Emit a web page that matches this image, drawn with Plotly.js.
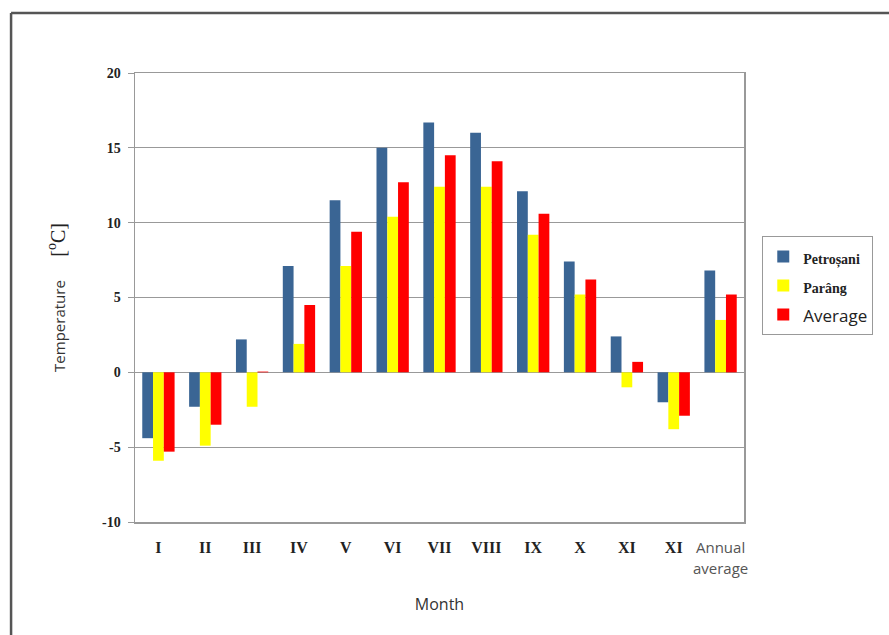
<!DOCTYPE html>
<html>
<head>
<meta charset="utf-8">
<script src="https://cdn.plot.ly/plotly-3.0.1.min.js"></script>
<style>html,body{margin:0;padding:0;background:#fff;}#chart{width:889px;height:635px;}</style>
</head>
<body>
<div id="chart"></div>
<script>
var months = ["I","II","III","IV","V","VI","VII","VIII","IX","X","XI","XI","Annual average"];
var monthLabels = ["<b>I</b>","<b>II</b>","<b>III</b>","<b>IV</b>","<b>V</b>","<b>VI</b>","<b>VII</b>","<b>VIII</b>","<b>IX</b>","<b>X</b>","<b>XI</b>","<b>XI</b>",
  "<span style='font-family:Open Sans;color:#555;font-size:15px'>Annual<br>average</span>"];
var petrosani = [-4.4, -2.3, 2.2, 7.1, 11.5, 15.0, 16.7, 16.0, 12.1, 7.4, 2.4, -2.0, 6.8];
var parang    = [-5.9, -4.9, -2.3, 1.9, 7.1, 10.4, 12.4, 12.4, 9.2, 5.2, -1.0, -3.8, 3.5];
var average   = [-5.3, -3.5, 0.05, 4.5, 9.4, 12.7, 14.5, 14.1, 10.6, 6.2, 0.7, -2.9, 5.2];
var yTickVals = [-10, -5, 0, 5, 10, 15, 20];
var yTickText = ["-10", "-5", "0", "5", "10", "15", "20"];
var idx = months.map(function(_, i){ return i; });

var serifBold = "<span style='font-family:Liberation Serif;font-weight:bold;font-size:14px'>";
var traces = [
  {type:"bar", x:idx, y:petrosani, name: serifBold + "Petroșani</span>", marker:{color:"#3a6594"}},
  {type:"bar", x:idx, y:parang, name: serifBold + "Parâng</span>", marker:{color:"#ffff00"}},
  {type:"bar", x:idx, y:average, name: "<span style='font-family:Open Sans;font-size:17px'>Average</span>", marker:{color:"#ff0000"}}
];

var layout = {
  width: 889, height: 635,
  margin: {l:135, r:145, t:73, b:113},
  paper_bgcolor: "#fff", plot_bgcolor: "#fff",
  barmode: "group", bargap: 0.31, bargroupgap: 0,
  showlegend: true,
  legend: {x: 1.03, y: 0.527, xanchor: "left", yanchor: "middle",
           bordercolor: "#999", borderwidth: 1, bgcolor: "#fff",
           font: {family: "Liberation Serif", size: 20, color: "#222"},
           tracegroupgap: 2, itemwidth: 30},
  xaxis: {
    tickmode: "array", tickvals: idx, ticktext: monthLabels,
    range: [-0.5, 12.5],
    tickfont: {family: "Liberation Serif", size: 16, color: "#222"},
    showgrid: false, zeroline: false,
    showline: true, linecolor: "#999", linewidth: 1.5, mirror: true,
    ticks: "", ticklabelstandoff: 10,
    title: {text: "Month", font: {family: "Open Sans", size: 16, color: "#333"}, standoff: 22}
  },
  yaxis: {
    range: [-10, 20], tickmode: "array", tickvals: yTickVals, ticktext: yTickText,
    tickfont: {family: "Liberation Serif", size: 14, color: "#222", weight: "bold"},
    showgrid: true, gridcolor: "#999", gridwidth: 1.3,
    zeroline: true, zerolinecolor: "#999", zerolinewidth: 1.3,
    showline: true, linecolor: "#999", linewidth: 1.5, mirror: true,
    ticks: "outside", ticklen: 6, tickcolor: "#999", ticklabelstandoff: 4,
    title: {text: "Temperature      <span style='font-family:Liberation Serif;font-size:20px;color:#222'>[<sup>o</sup>C]</span>",
            font: {family: "Open Sans", size: 15, color: "#333"}, standoff: 33}
  },
  shapes: [
    {type:"line", xref:"paper", yref:"paper", x0:-0.2035, x1:1.3, y0:1.1336, y1:1.1336, line:{color:"#555", width:2.5}},
    {type:"line", xref:"paper", yref:"paper", x0:-0.2035, x1:-0.2035, y0:1.1336, y1:-0.3, line:{color:"#555", width:2.5}}
  ]
};

Plotly.newPlot("chart", traces, layout, {displayModeBar:false, staticPlot:true});
</script>
</body>
</html>
